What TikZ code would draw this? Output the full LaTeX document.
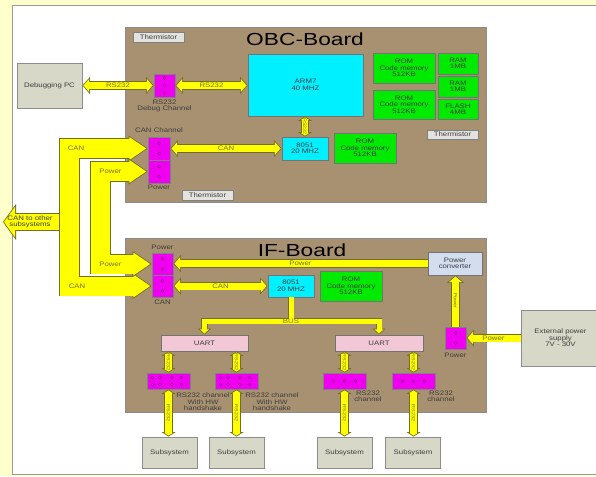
\documentclass[tikz,border=0pt]{standalone}
\usepackage{fontspec}
\setmainfont{Liberation Sans}
\newfontfamily\diagfont[FakeStretch=1.2]{Liberation Sans}
\newfontfamily\titlefont[FakeStretch=1.3]{Liberation Sans}
\usetikzlibrary{arrows.meta,positioning,calc}

\definecolor{paper}{RGB}{255,255,204}
\definecolor{boardc}{RGB}{168,145,113}
\definecolor{busfill}{RGB}{255,255,0}
\definecolor{busedge}{RGB}{115,110,35}
\definecolor{cpuc}{RGB}{0,240,255}
\definecolor{memc}{RGB}{0,235,0}
\definecolor{pinc}{RGB}{240,0,240}
\definecolor{pinedge}{RGB}{165,0,165}
\definecolor{uartc}{RGB}{242,200,215}
\definecolor{greyc}{RGB}{216,216,200}
\definecolor{sensorc}{RGB}{226,226,222}
\definecolor{convc}{RGB}{210,222,238}
\definecolor{txt}{RGB}{60,60,60}
\definecolor{bustxt}{RGB}{120,112,35}

\tikzset{
  medo/.tip={Triangle[width=17pt,length=7.5pt,line width=0pt]},
  medi/.tip={Triangle[width=12.8pt,length=5.6pt,line width=0pt]},
  tapo/.tip={Triangle[width=14pt,length=4.5pt,line width=0pt]},
  tapi/.tip={Triangle[width=8.6pt,length=2.75pt,line width=0pt]},
  buso/.tip={Triangle[width=13pt,length=6pt,line width=0pt]},
  busi/.tip={Triangle[width=8.9pt,length=4.1pt,line width=0pt]},
  trko/.tip={Triangle[width=26pt,length=19pt,line width=0pt]},
  trki/.tip={Triangle[width=23pt,length=16.8pt,line width=0pt]},
  brko/.tip={Triangle[width=36pt,length=13pt,line width=0pt]},
  brki/.tip={Triangle[width=31pt,length=11.2pt,line width=0pt]}
}

\begin{document}
\begin{tikzpicture}[x=1pt,y=-1pt,
font=\diagfont\fontsize{6.5}{6.5}\selectfont,
sz/.style 2 args={minimum width=#1pt,minimum height=#2pt},
box/.style={rectangle,draw=black!55,line width=0.8pt,inner sep=0pt,align=center,text=txt},
board/.style={rectangle,draw=black!45,fill=boardc,line width=0.6pt},
title/.style={font=\titlefont\fontsize{17.5}{17.5}\selectfont,text=black},
cpu/.style={box,fill=cpuc},
mem/.style={box,fill=memc},
pins/.style={box,fill=pinc,draw=black!50},
uart/.style={box,fill=uartc},
grey/.style={box,fill=greyc,draw=black!45},
conv/.style={box,fill=convc},
therm/.style={box,fill=sensorc,draw=black!50,line width=0.6pt},
lbl/.style={inner sep=0.5pt,align=center,text=txt},
ylbl/.style={inner sep=0pt,align=center,text=bustxt},
vlbl/.style={ylbl,rotate=-90,font=\diagfont\fontsize{4.5}{4.5}\selectfont},
pindot/.style={draw=pinedge,line width=0.4pt},
arr/.style={draw=busedge,line width=8.6pt,arrows=medo-medo,
  postaction={draw=busfill,line width=7pt,arrows=medi-medi,shorten <=1.07pt,shorten >=1.07pt},
  postaction={draw=busfill,line width=7pt,arrows=-,shorten <=4.5pt,shorten >=4.5pt}},
arrto/.style={draw=busedge,line width=8.6pt,arrows=-medo,
  postaction={draw=busfill,line width=7pt,arrows=-medi,shorten >=1.07pt},
  postaction={draw=busfill,line width=7pt,arrows=-,shorten >=4.5pt}},
tap/.style={draw=busedge,line width=8.2pt,arrows=tapo-tapo,
  postaction={draw=busfill,line width=6.6pt,arrows=tapi-tapi,shorten <=0.95pt,shorten >=0.95pt},
  postaction={draw=busfill,line width=6.6pt,arrows=-,shorten <=3.4pt,shorten >=3.4pt}},
bus/.style={draw=busedge,line width=6.6pt,arrows=buso-buso,
  postaction={draw=busfill,line width=5pt,arrows=busi-busi,shorten <=1.09pt,shorten >=1.09pt},
  postaction={draw=busfill,line width=5pt,arrows=-,shorten <=3.7pt,shorten >=3.7pt}},
busline/.style={draw=busedge,line width=6.6pt,
  postaction={draw=busfill,line width=5pt}},
trunk/.style={draw=busedge,line width=20.6pt,arrows=trko-trko,
  postaction={draw=busfill,line width=19pt,arrows=trki-trki,shorten <=1.42pt,shorten >=1.42pt},
  postaction={draw=busfill,line width=19pt,arrows=-,shorten <=15.8pt,shorten >=15.8pt}},
branch/.style={draw=busedge,line width=17.6pt,arrows=-brko,
  postaction={draw=busfill,line width=16pt,arrows=-brki,shorten >=0.99pt},
  postaction={draw=busfill,line width=16pt,arrows=-,shorten >=7.2pt}}
]
\useasboundingbox (0,0) rectangle (596,476);
\fill[paper] (0,0) rectangle (596,476);
\draw[draw=black!40,fill=white,line width=0.8pt] (12,5) rectangle (600,474);

% boards
\node[board,sz={361}{175}] (obc) at (305.5,114.5) {};
\node[board,sz={361}{174}] (ifb) at (305.5,325) {};
\node[title] at (305,39) {OBC-Board};
\node[title] at (302,250) {IF-Board};

\node[grey,sz={65}{45}] (pc) at (49.5,85.5) {Debugging PC};

% OBC board
\node[therm,sz={51}{10}] (thtl) at (158.5,37) {Thermistor};
\node[cpu,sz={115}{62}] (arm) at (305.5,85) {ARM7\\40 MHZ};
\node[mem,sz={62}{30}] (rom1) at (404,68) {ROM\\Code memory\\512KB};
\node[mem,sz={62}{29}] (rom2) at (404,104.5) {ROM\\Code memory\\512KB};
\node[mem,sz={40}{21}] (ram1) at (458,63.5) {RAM\\1MB};
\node[mem,sz={40}{21}] (ram2) at (458,86.5) {RAM\\1MB};
\node[mem,sz={40}{20}] (flash) at (458,109) {FLASH\\4MB};
\node[therm,sz={51}{9}] (thr) at (452.5,134.5) {Thermistor};
\node[cpu,sz={46}{23}] (obcmcu) at (305,148.5) {8051\\20 MHZ};
\node[mem,sz={62}{30}] (rom3) at (365,148) {ROM\\Code memory\\512KB};
\node[therm,sz={51}{10}] (thb) at (207.5,195) {Thermistor};

\node[pins,sz={21}{23}] (dbg) at (164.5,85.5) {};
\node[lbl,below=1.5pt of dbg] {RS232\\Debug Channel};
\node[pins,sz={22}{23}] (canc) at (159,148.5) {};
\node[pins,sz={22}{23}] (pwrc) at (159,171.5) {};
\node[lbl,above=3pt of canc] {CAN Channel};
\node[lbl,below=1pt of pwrc] {Power};

% IF board
\node[pins,sz={21}{22}] (ifpw) at (162.5,264) {};
\node[pins,sz={21}{22}] (ifcan) at (162.5,286) {};
\node[lbl,above=2.5pt of ifpw] {Power};
\node[lbl,below=2pt of ifcan] {CAN};
\node[conv,sz={54}{23}] (pconv) at (455,263.5) {Power\\converter};
\node[cpu,sz={46}{22}] (ifmcu) at (291,286) {8051\\20 MHZ};
\node[mem,sz={62}{30}] (rom4) at (351,286) {ROM\\Code memory\\512KB};
\node[uart,sz={87}{16}] (uarta) at (204.5,343) {UART};
\node[uart,sz={88}{16}] (uartb) at (379,343) {UART};
\node[pins,sz={43}{16}] (ch1) at (168.5,381) {};
\node[pins,sz={43}{16}] (ch2) at (236.5,381) {};
\node[pins,sz={43}{16}] (ch3) at (344.5,381) {};
\node[pins,sz={43}{16}] (ch4) at (413.5,381) {};
\node[lbl,anchor=north] at (203,392.5) {RS232 channel\\With HW\\handshake};
\node[lbl,anchor=north] at (272,392.5) {RS232 channel\\With HW\\handshake};
\node[lbl,anchor=north] at (368,390) {RS232\\channel};
\node[lbl,anchor=north] at (441,390) {RS232\\channel};
\node[pins,sz={21}{22}] (ifpwr) at (455.5,338) {};
\node[lbl,below=2.5pt of ifpwr] {Power};
\node[grey,sz={79}{56}] (supply) at (560.5,338) {External power\\supply\\7V - 30V};

\node[grey,sz={55}{31}] (sub1) at (169.5,452.5) {Subsystem};
\node[grey,sz={55}{31}] (sub2) at (236.5,452.5) {Subsystem};
\node[grey,sz={55}{31}] (sub3) at (344.5,452.5) {Subsystem};
\node[grey,sz={55}{31}] (sub4) at (413,452.5) {Subsystem};

% pins
\foreach \dy in {-7.5,0,7.5}
  \draw[pindot] ([yshift=\dy pt]dbg.center) circle[radius=1.5pt];
\foreach \c in {canc,pwrc,ifpw,ifcan,ifpwr}
  \foreach \dy in {-5,5}
    \draw[pindot] ([yshift=\dy pt]\c.center) circle[radius=1.5pt];
\foreach \c in {ch1,ch2}
  \foreach \dx in {-16,-8.5,3.5,13}
    \foreach \dy in {-3.5,3.5}
      \draw[pindot] ([shift={(\dx pt,\dy pt)}]\c.center) circle[radius=1.5pt];
\foreach \c in {ch3,ch4}
  \foreach \dx in {-11,0,11}
    \draw[pindot] ([xshift=\dx pt]\c.center) circle[radius=1.5pt];

% CAN and power trunks
\coordinate (canx) at (69.5,0);
\coordinate (pwx) at (100.5,0);
\coordinate (others) at (3,222);
\draw[trunk] (canc.west) -- (canc.west -| canx) -- (ifcan.west -| canx) -- (ifcan.west);
\draw[trunk] (pwrc.west) -- (pwrc.west -| pwx) -- (ifpw.west -| pwx) -- (ifpw.west);
\draw[branch] ($(others -| canx)+(-10.25,0)$) -- (others);
\node[ylbl] at (76,148.5) {CAN};
\node[ylbl] at (110.5,171.5) {Power};
\node[ylbl] at (110.5,264) {Power};
\node[ylbl] at (77,286) {CAN};
\node[ylbl,text=txt] at (30,222) {CAN to other\\subsystems};

% links
\draw[arr] (pc.east) -- node[ylbl]{RS232} (dbg.west);
\draw[arr] (dbg.east) -- node[ylbl]{RS232} (dbg.east -| arm.west);
\draw[arr] (canc.east) -- node[ylbl]{CAN} (canc.east -| obcmcu.west);
\draw[tap] (obcmcu.north |- arm.south) -- node[vlbl]{RS232} (obcmcu.north);

\draw[arrto] (pconv.west) -- node[ylbl]{Power} (pconv.west -| ifpw.east);
\draw[arr] (ifcan.east) -- node[ylbl]{CAN} (ifcan.east -| ifmcu.west);
\draw[arrto] (ifpwr.north) -- node[vlbl]{Power} (ifpwr.north |- pconv.south);
\draw[arrto] (supply.west) -- node[ylbl]{Power} (supply.west -| ifpwr.east);

\coordinate (busy) at (0,321);
\draw[bus] (uarta.north) -- (uarta.north |- busy) -- (uartb.north |- busy) -- (uartb.north);
\draw[busline] (ifmcu.south) -- ($(ifmcu.south |- busy)+(0,-2.4)$);
\node[ylbl] at (ifmcu.south |- busy) {BUS};

\foreach \c/\u in {ch1/uarta,ch2/uarta,ch3/uartb,ch4/uartb}
  \draw[tap] (\c.north |- \u.south) -- node[vlbl]{RS232} (\c.north);
\foreach \c/\s in {ch1/sub1,ch2/sub2,ch3/sub3,ch4/sub4}
  \draw[tap] (\c.south) -- node[vlbl]{RS232} (\c.south |- \s.north);
\end{tikzpicture}
\end{document}
